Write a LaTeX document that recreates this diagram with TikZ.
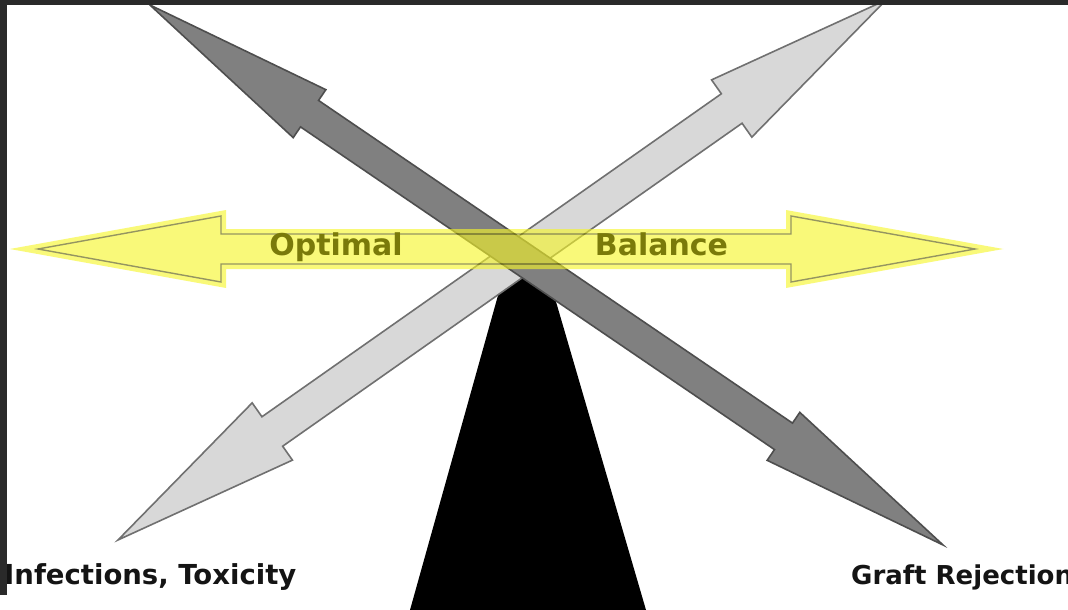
\documentclass[tikz,border=0pt]{standalone}
\usepackage{fontspec}
\setmainfont{DejaVu Sans}
\definecolor{frame}{RGB}{42,42,42}
\definecolor{darkfill}{RGB}{128,128,128}
\definecolor{darkline}{RGB}{78,78,78}
\definecolor{lightfill}{RGB}{216,216,216}
\definecolor{lightline}{RGB}{112,112,112}
\definecolor{hlyellow}{RGB}{246,246,40}
\definecolor{hlline}{RGB}{85,85,0}
\definecolor{hltext}{RGB}{122,122,10}
\begin{document}
\begin{tikzpicture}[x=1pt, y=-1pt,
    darkshaft/.style={fill=darkfill, draw=darkline, line width=1.6pt, line join=miter},
    lightshaft/.style={fill=lightfill, draw=lightline, line width=1.6pt, line join=miter},
    hlband/.style={fill=hlyellow, draw=hlyellow, line width=10pt, line join=miter},
    hloutline/.style={draw=hlline, line width=1.4pt, line join=miter},
    bandtext/.style={text=hltext, font=\fontsize{30}{36}\selectfont\bfseries, anchor=base},
    sidetext/.style={text=black!92, font=\fontsize{27.5}{33}\selectfont\bfseries, anchor=base west}]

    \useasboundingbox (0,0) rectangle (1068,610);
    \fill[white] (0,0) rectangle (1068,610);

    % fulcrum
    \fill[black] (510.7,250) -- (540.9,250) -- (646,610) -- (410,610) -- cycle;

    % light arrow, bottom left to top right
    \begin{scope}[shift={(502,270)}, rotate=35.11]
        \draw[lightshaft] (-469.4,0) -- (-280.8,35) -- (-280.8,18) -- (280.8,18) -- (280.8,35)
            -- (469.4,0) -- (280.8,-35) -- (280.8,-18) -- (-280.8,-18) -- (-280.8,-35) -- cycle;
    \end{scope}

    % dark arrow, top left to bottom right
    \begin{scope}[shift={(546.5,275)}, rotate=-34.25]
        \draw[darkshaft] (-479.7,0) -- (-286.7,29) -- (-286.7,16) -- (286.7,16) -- (286.7,29)
            -- (479.7,0) -- (286.7,-29) -- (286.7,-16) -- (-286.7,-16) -- (-286.7,-29) -- cycle;
    \end{scope}

    % yellow balance arrow
    \begin{scope}[shift={(506,249)}, transparency group, opacity=0.62]
        \draw[hlband] (-468,0) -- (-285,33) -- (-285,15) -- (285,15) -- (285,33)
            -- (469,0) -- (285,-33) -- (285,-15) -- (-285,-15) -- (-285,-33) -- cycle;
        \draw[hloutline] (-468,0) -- (-285,33) -- (-285,15) -- (285,15) -- (285,33)
            -- (469,0) -- (285,-33) -- (285,-15) -- (-285,-15) -- (-285,-33) -- cycle;
    \end{scope}

    \node[bandtext] (optimal) at (336,255) {Optimal};
    \node[bandtext] (balance) at (661.5,255) {Balance};

    \node[sidetext, inner sep=0pt] (infect) at (4,584) {Infections, Toxicity};
    \node[sidetext, inner sep=0pt, font=\fontsize{26}{31}\selectfont\bfseries] (graft) at (851,584) {Graft Rejection};

    % frame
    \fill[frame] (0,0) rectangle (1068,5);
    \fill[frame] (0,0) rectangle (7,595);
\end{tikzpicture}
\end{document}
